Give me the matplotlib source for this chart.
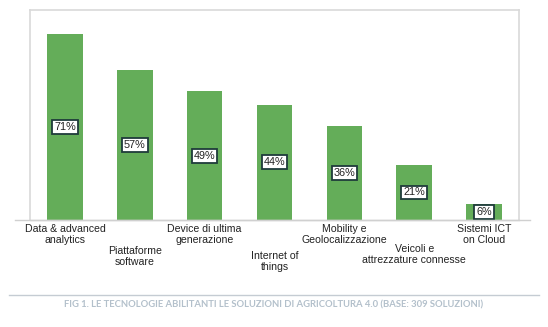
import matplotlib
matplotlib.use("Agg")
import matplotlib.pyplot as plt
from matplotlib.lines import Line2D

categories = ["Data & advanced\nanalytics", "Piattaforme\nsoftware", "Device di ultima\ngenerazione",
              "Internet of\nthings", "Mobility e\nGeolocalizzazione", "Veicoli e\nattrezzature connesse",
              "Sistemi ICT\non Cloud"]
values = [71, 57, 49, 44, 36, 21, 6]
value_labels = ["71%", "57%", "49%", "44%", "36%", "21%", "6%"]
caption = "FIG 1. LE TECNOLOGIE ABILITANTI LE SOLUZIONI DI AGRICOLTURA 4.0 (BASE: 309 SOLUZIONI)"

W, H = 548, 327
fig = plt.figure(figsize=(W / 100, H / 100), dpi=100)
fig.patch.set_facecolor("white")

# axes in pixel coords: left 30, right 519, top 10, bottom 220
ax = fig.add_axes([30 / W, 1 - 220 / H, (519 - 30) / W, (220 - 10) / H])
x = list(range(len(values)))
ax.bar(x, values, width=0.51, color="#64ad59", zorder=2)
ax.set_xlim(-0.5, len(values) - 0.5)
ax.set_ylim(0, 80)
ax.set_yticks([])

for s in ["left", "right", "top"]:
    ax.spines[s].set_color("#d9d9d9")
    ax.spines[s].set_linewidth(1.2)
ax.spines["bottom"].set_color("#d0d0d0")
ax.spines["bottom"].set_linewidth(1.0)

for xi, v, lab in zip(x, values, value_labels):
    ax.text(xi, v / 2, lab, ha="center", va="center", fontsize=7.8,
            family="Liberation Sans", color="#222222", zorder=3,
            bbox=dict(boxstyle="square,pad=0.17", facecolor="white",
                      edgecolor="#1f3b3b", linewidth=1.3))

ax.set_xticks(x)
ax.set_xticklabels(categories, fontsize=7.6, family="Liberation Sans",
                   color="#222222", linespacing=1.15)
ax.tick_params(axis="x", length=0)
pads_px = [4, 26, 4, 31, 4, 24, 4]
for t, p in zip(ax.xaxis.get_major_ticks(), pads_px):
    t.set_pad(p * 0.72)

# baseline extension beyond the frame
fig.add_artist(Line2D([15 / W, 530 / W], [1 - 220 / H, 1 - 220 / H],
                      color="#d0d0d0", linewidth=1.0))

# separator line and caption
fig.add_artist(Line2D([9 / W, 539 / W], [1 - 295 / H, 1 - 295 / H],
                      color="#c5ccd3", linewidth=1.0))
fig.text(274 / W, 1 - 305 / H, caption, ha="center", va="center",
         fontsize=6.85, family="Lato", fontweight="bold", color="#b3c0cb")

fig.savefig("out.png", dpi=100, facecolor="white")
